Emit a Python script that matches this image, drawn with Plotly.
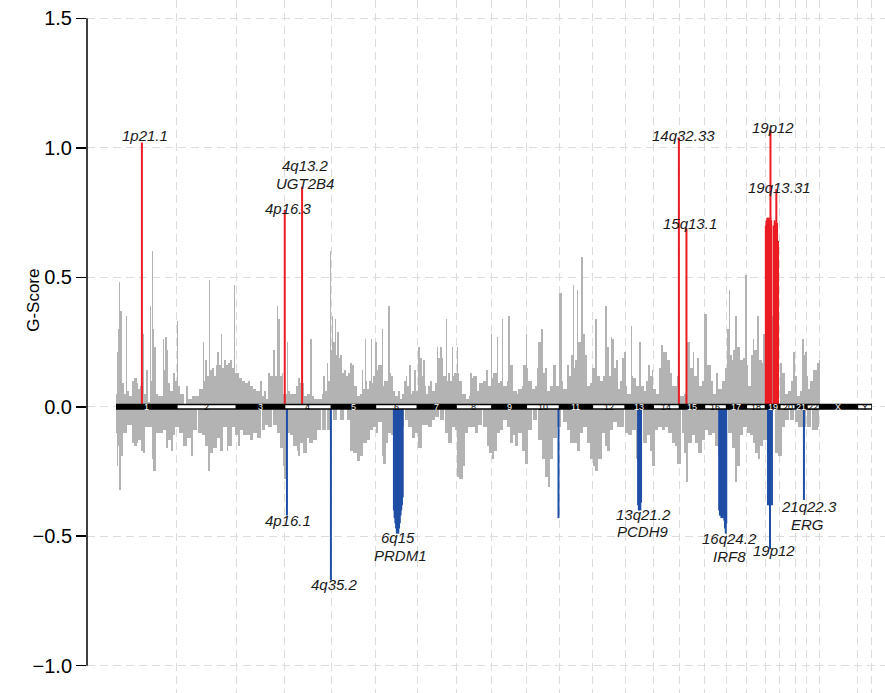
import plotly.graph_objects as go

# ---------------- data ----------------
CHROM_NAMES = [str(i) for i in range(1, 23)] + ["X", "Y"]
CHROM_LEN_MB = [249.25, 243.2, 198.0, 191.15, 180.9, 171.1, 159.1, 146.4, 141.2, 135.5,
                135.0, 133.85, 115.2, 107.35, 102.5, 90.35, 81.2, 78.1, 59.1, 63.0,
                48.1, 51.3, 155.3, 59.4]

# grey amplification G-scores: (genome position in Mb, G-score)
GREY_AMP = [
    (0, 0.05), (2, 0.21), (8, 0.30), (12, 0.48), (16, 0.37), (23, 0.09), (33, 0.05), (41, 0.35),
    (45, 0.06), (53, 0.04), (66, 0.10), (74, 0.11), (85, 0.09), (91, 0.07), (98, 0.08), (109, 0.28),
    (115, 0.05), (122, 0.14), (131, 0.02), (139, 0.39), (143, 0.10), (149, 0.60), (153, 0.30),
    (156, 0.23), (162, 0.05), (171, 0.04), (180, 0.04), (191, 0.26), (197, 0.14), (201, 0.27),
    (209, 0.22), (214, 0.09), (221, 0.06), (233, 0.13), (241, 0.10), (249, 0.33), (254, 0.08),
    (262, 0.05), (287, 0.08), (295, 0.03), (311, 0.04), (328, 0.04), (340, 0.07), (355, 0.25),
    (360, 0.10), (364, 0.18), (373, 0.12), (381, 0.49), (385, 0.14), (393, 0.15), (401, 0.12),
    (410, 0.16), (415, 0.21), (421, 0.16), (429, 0.28), (434, 0.15), (442, 0.18), (450, 0.16),
    (459, 0.17), (467, 0.18), (475, 0.15), (484, 0.47), (489, 0.13), (495, 0.13), (504, 0.11),
    (516, 0.10), (528, 0.09), (541, 0.10), (549, 0.08), (561, 0.07), (573, 0.06), (590, 0.10),
    (598, 0.04), (606, 0.06), (614, 0.03), (623, 0.13), (631, 0.12), (644, 0.22), (651, 0.12),
    (658, 0.39), (663, 0.34), (670, 0.12), (679, 0.13), (684, 0.05), (699, 0.25), (704, 0.06),
    (713, 0.05), (725, 0.05), (737, 0.08), (747, 0.11), (753, 0.09), (770, 0.04), (781, 0.05),
    (794, 0.26), (801, 0.04), (811, 0.03), (827, 0.03), (844, 0.05), (849, 0.12), (856, 0.06),
    (863, 0.17), (868, 0.10), (876, 0.60), (880, 0.22), (886, 0.35), (890, 0.25), (897, 0.34),
    (901, 0.20), (906, 0.29), (912, 0.19), (917, 0.20), (925, 0.13), (934, 0.14), (942, 0.12),
    (950, 0.13), (958, 0.17), (966, 0.16), (975, 0.08), (987, 0.04), (999, 0.05), (1006, 0.14),
    (1011, 0.07), (1020, 0.26), (1024, 0.10), (1029, 0.07), (1036, 0.10), (1043, 0.26),
    (1048, 0.09), (1054, 0.12), (1061, 0.25), (1067, 0.14), (1073, 0.16), (1078, 0.16),
    (1088, 0.30), (1093, 0.08), (1099, 0.10), (1106, 0.10), (1115, 0.39), (1120, 0.13),
    (1126, 0.12), (1134, 0.06), (1143, 0.04), (1155, 0.06), (1163, 0.03), (1171, 0.05),
    (1181, 0.10), (1186, 0.12), (1192, 0.08), (1201, 0.16), (1208, 0.05), (1213, 0.06),
    (1222, 0.14), (1229, 0.06), (1238, 0.23), (1245, 0.19), (1252, 0.12), (1258, 0.18),
    (1265, 0.08), (1269, 0.05), (1278, 0.08), (1286, 0.10), (1294, 0.06), (1306, 0.09),
    (1313, 0.23), (1319, 0.19), (1327, 0.23), (1334, 0.19), (1339, 0.12), (1350, 0.34),
    (1355, 0.10), (1361, 0.13), (1368, 0.10), (1375, 0.23), (1380, 0.12), (1384, 0.13),
    (1395, 0.23), (1400, 0.13), (1406, 0.10), (1417, 0.05), (1433, 0.03), (1446, 0.04),
    (1450, 0.13), (1457, 0.11), (1463, 0.12), (1470, 0.12), (1478, 0.06), (1486, 0.09),
    (1498, 0.09), (1503, 0.10), (1515, 0.14), (1525, 0.08), (1536, 0.28), (1541, 0.11),
    (1545, 0.13), (1559, 0.27), (1566, 0.09), (1572, 0.10), (1579, 0.34), (1585, 0.08),
    (1593, 0.08), (1601, 0.10), (1606, 0.35), (1612, 0.16), (1620, 0.16), (1627, 0.06),
    (1641, 0.05), (1647, 0.07), (1661, 0.08), (1668, 0.16), (1678, 0.28), (1683, 0.15),
    (1688, 0.10), (1702, 0.07), (1716, 0.08), (1723, 0.15), (1729, 0.25), (1740, 0.30),
    (1750, 0.13), (1757, 0.15), (1765, 0.06), (1770, 0.06), (1777, 0.08), (1791, 0.16),
    (1801, 0.08), (1814, 0.44), (1825, 0.10), (1832, 0.07), (1846, 0.16), (1855, 0.12),
    (1863, 0.20), (1870, 0.47), (1876, 0.15), (1880, 0.18), (1887, 0.45), (1892, 0.25),
    (1904, 0.58), (1914, 0.28), (1921, 0.20), (1927, 0.08), (1941, 0.09), (1948, 0.15),
    (1961, 0.34), (1971, 0.12), (1982, 0.10), (1994, 0.12), (2002, 0.39), (2012, 0.23),
    (2019, 0.12), (2026, 0.27), (2032, 0.26), (2039, 0.15), (2046, 0.18), (2057, 0.07),
    (2064, 0.10), (2071, 0.19), (2080, 0.21), (2087, 0.08), (2094, 0.05), (2108, 0.31),
    (2113, 0.12), (2118, 0.11), (2129, 0.08), (2142, 0.25), (2150, 0.08), (2162, 0.06),
    (2170, 0.10), (2180, 0.16), (2187, 0.12), (2194, 0.14), (2200, 0.07), (2211, 0.05),
    (2222, 0.15), (2232, 0.24), (2241, 0.21), (2255, 0.18), (2269, 0.13), (2277, 0.08),
    (2289, 0.08), (2299, 0.12), (2310, 0.04), (2326, 0.05), (2339, 0.25), (2350, 0.15),
    (2362, 0.21), (2368, 0.12), (2378, 0.19), (2389, 0.08), (2400, 0.10), (2408, 0.36),
    (2419, 0.16), (2430, 0.16), (2437, 0.10), (2446, 0.05), (2457, 0.13), (2467, 0.07),
    (2480, 0.10), (2494, 0.15), (2501, 0.30), (2509, 0.45), (2514, 0.20), (2521, 0.18),
    (2528, 0.22), (2535, 0.35), (2542, 0.23), (2555, 0.18), (2566, 0.19), (2577, 0.51),
    (2584, 0.16), (2589, 0.08), (2600, 0.20), (2607, 0.26), (2614, 0.22), (2624, 0.35),
    (2634, 0.18), (2644, 0.17), (2651, 0.28), (2658, 0.22), (2666, 0.30), (2682, 0.35),
    (2692, 0.41), (2699, 0.20), (2719, 0.17), (2726, 0.13), (2740, 0.05), (2752, 0.06),
    (2764, 0.10), (2774, 0.21), (2780, 0.12), (2787, 0.04), (2801, 0.06), (2810, 0.26),
    (2817, 0.20), (2821, 0.21), (2828, 0.12), (2835, 0.07), (2842, 0.10), (2855, 0.14),
    (2869, 0.17), (2879, 0.18),
]

# grey deletion G-scores: (genome position in Mb, G-score)
GREY_DEL = [
    (0, -0.10), (3, -0.23), (8, -0.15), (12, -0.32), (19, -0.19), (30, -0.10), (44, -0.07),
    (57, -0.07), (64, -0.14), (74, -0.15), (85, -0.14), (91, -0.13), (101, -0.17), (109, -0.18),
    (119, -0.08), (136, -0.08), (146, -0.20), (153, -0.25), (164, -0.10), (180, -0.10),
    (194, -0.09), (205, -0.16), (214, -0.13), (224, -0.17), (232, -0.11), (242, -0.08),
    (259, -0.10), (273, -0.15), (290, -0.12), (306, -0.19), (317, -0.09), (337, -0.10),
    (351, -0.11), (364, -0.15), (375, -0.25), (385, -0.18), (398, -0.16), (412, -0.12),
    (426, -0.17), (439, -0.08), (453, -0.17), (460, -0.15), (474, -0.08), (487, -0.11),
    (501, -0.15), (508, -0.09), (521, -0.11), (535, -0.11), (549, -0.13), (562, -0.10),
    (576, -0.12), (597, -0.09), (610, -0.07), (624, -0.08), (644, -0.07), (658, -0.10),
    (672, -0.16), (683, -0.23), (689, -0.28), (700, -0.10), (713, -0.11), (726, -0.15),
    (740, -0.17), (747, -0.19), (753, -0.14), (767, -0.18), (781, -0.12), (792, -0.14),
    (808, -0.13), (822, -0.09), (842, -0.09), (863, -0.09), (890, -0.05), (917, -0.05),
    (945, -0.05), (958, -0.17), (972, -0.18), (986, -0.21), (999, -0.19), (1013, -0.14),
    (1027, -0.13), (1040, -0.09), (1054, -0.08), (1065, -0.10), (1074, -0.06), (1088, -0.19),
    (1095, -0.22), (1106, -0.14), (1115, -0.10), (1125, -0.11), (1133, -0.12), (1147, -0.10),
    (1163, -0.08), (1183, -0.05), (1197, -0.08), (1211, -0.12), (1224, -0.10), (1238, -0.16),
    (1252, -0.07), (1265, -0.07), (1279, -0.08), (1293, -0.05), (1306, -0.04), (1327, -0.05),
    (1347, -0.10), (1361, -0.14), (1375, -0.08), (1388, -0.09), (1398, -0.27), (1406, -0.28),
    (1420, -0.23), (1429, -0.10), (1443, -0.08), (1457, -0.08), (1470, -0.10), (1484, -0.07),
    (1504, -0.08), (1518, -0.15), (1529, -0.18), (1538, -0.20), (1549, -0.17), (1559, -0.10),
    (1572, -0.09), (1586, -0.05), (1600, -0.08), (1613, -0.14), (1624, -0.11), (1634, -0.15),
    (1647, -0.10), (1661, -0.17), (1675, -0.22), (1688, -0.09), (1709, -0.05), (1729, -0.13),
    (1743, -0.20), (1757, -0.27), (1768, -0.31), (1777, -0.20), (1791, -0.12), (1805, -0.08),
    (1832, -0.06), (1846, -0.09), (1859, -0.14), (1873, -0.14), (1887, -0.17), (1900, -0.10),
    (1914, -0.08), (1930, -0.14), (1941, -0.20), (1952, -0.23), (1961, -0.25), (1975, -0.20),
    (1989, -0.10), (2002, -0.15), (2012, -0.17), (2023, -0.09), (2036, -0.06), (2050, -0.08),
    (2064, -0.08), (2084, -0.10), (2098, -0.11), (2112, -0.09), (2129, -0.20), (2159, -0.14),
    (2173, -0.11), (2187, -0.17), (2194, -0.23), (2208, -0.09), (2221, -0.08), (2235, -0.09),
    (2248, -0.08), (2262, -0.10), (2276, -0.14), (2289, -0.15), (2299, -0.22), (2317, -0.10),
    (2326, -0.18), (2334, -0.29), (2343, -0.14), (2357, -0.11), (2371, -0.14), (2385, -0.18),
    (2398, -0.13), (2412, -0.09), (2425, -0.11), (2439, -0.10), (2453, -0.15), (2467, -0.19),
    (2508, -0.10), (2522, -0.16), (2535, -0.29), (2544, -0.23), (2555, -0.11), (2569, -0.08),
    (2583, -0.10), (2596, -0.11), (2607, -0.14), (2617, -0.18), (2627, -0.20), (2638, -0.15),
    (2651, -0.13), (2665, -0.17), (2699, -0.18), (2712, -0.19), (2726, -0.08), (2740, -0.05),
    (2760, -0.05), (2780, -0.06), (2794, -0.08), (2810, -0.08), (2828, -0.08), (2848, -0.09),
    (2862, -0.09), (2876, -0.08),
]

# significant amplification peaks (red): (genome Mb, G-score)
AMP_SIG = [
    (106, 1.02), (691, 0.76), (762, 0.85), (2305, 1.04), (2336, 0.69),
    (2661, 0.70), (2664, 0.72), (2667, 0.73), (2670, 0.72), (2673, 0.73), (2676, 0.71),
    (2679, 0.73), (2680, 1.07), (2683, 0.72),
    (2693, 0.70), (2697, 0.72), (2701, 0.71), (2704, 0.84), (2707, 0.71), (2711, 0.64),
]

# significant deletion peaks (blue): (genome Mb, G-score)
DEL_SIG = [
    (700, -0.42), (880, -0.67),
    (1138, -0.40), (1141, -0.43), (1144, -0.45), (1147, -0.47), (1150, -0.49), (1153, -0.48),
    (1156, -0.49), (1159, -0.47), (1162, -0.45), (1165, -0.42), (1168, -0.40), (1171, -0.38),
    (1174, -0.35),
    (1812, -0.43),
    (2138, -0.38), (2141, -0.40), (2144, -0.40), (2147, -0.40), (2150, -0.37),
    (2470, -0.40), (2473, -0.42), (2476, -0.42), (2479, -0.43), (2482, -0.42), (2485, -0.43),
    (2488, -0.42), (2491, -0.44), (2494, -0.47), (2497, -0.49), (2499, -0.45),
    (2670, -0.38), (2673, -0.38), (2676, -0.38), (2678, -0.55), (2680, -0.38), (2683, -0.38),
    (2686, -0.38),
    (2817, -0.36),
]

# peak labels: (text, genome Mb, G-score)
PEAK_LABELS = [
    ("1p21.1", 119, 1.049), ("4p16.3", 708, 0.764), ("4q13.2", 774, 0.930),
    ("UGT2B4", 774, 0.864), ("14q32.33", 2322, 1.049), ("15q13.1", 2350, 0.709),
    ("19p12", 2690, 1.080), ("19q13.31", 2719, 0.848),
    ("4p16.1", 704, -0.441), ("4q35.2", 893, -0.685), ("6q15", 1155, -0.503),
    ("PRDM1", 1163, -0.576), ("13q21.2", 2158, -0.418), ("PCDH9", 2158, -0.480),
    ("16q24.2", 2513, -0.507), ("IRF8", 2513, -0.580), ("19p12", 2694, -0.557),
    ("21q22.3", 2838, -0.384), ("ERG", 2830, -0.454),
]

Y_TICKS = [-1.0, -0.5, 0.0, 0.5, 1.0, 1.5]

# ---------------- figure ----------------
starts, ends = [], []
acc = 0.0
for L in CHROM_LEN_MB:
    starts.append(acc)
    acc += L
    ends.append(acc)
genome_len = acc

fig = go.Figure()


def bar_widths(positions):
    # contiguous bars: each reading spans to the next one
    w = []
    for i, p in enumerate(positions):
        gap = positions[i + 1] - p if i + 1 < len(positions) else 4
        w.append(max(2.0, min(16.0, gap)))
    return w


for series in (GREY_AMP, GREY_DEL):
    px = [p for p, _ in series]
    fig.add_trace(go.Bar(
        x=px, y=[v for _, v in series], width=bar_widths(px), offset=0,
        marker=dict(color="#b3b3b3", line=dict(width=0)), hoverinfo="skip"))


def stems(pairs):
    xs, ys = [], []
    for p, v in pairs:
        xs += [p, p, None]
        ys += [0, v, None]
    return xs, ys


xs, ys = stems(AMP_SIG)
fig.add_trace(go.Scatter(x=xs, y=ys, mode="lines",
                         line=dict(color="#ec1c24", width=2), hoverinfo="skip"))
xs, ys = stems(DEL_SIG)
fig.add_trace(go.Scatter(x=xs, y=ys, mode="lines",
                         line=dict(color="#1f4ea6", width=2), hoverinfo="skip"))

# chromosome ideogram bar
shapes = [dict(type="rect", xref="x", yref="y", x0=0, x1=genome_len, y0=-0.0116, y1=0.0116,
               fillcolor="black", line=dict(width=0), layer="above")]
annotations = []
for i, (nm, s, e) in enumerate(zip(CHROM_NAMES, starts, ends)):
    even = (i % 2 == 1)
    if even:
        shapes.append(dict(type="rect", xref="x", yref="y", x0=s + 3, x1=e - 3,
                           y0=-0.0058, y1=0.0058, fillcolor="white",
                           line=dict(width=0), layer="above"))
    annotations.append(dict(x=(s + e) / 2, y=0, xref="x", yref="y", text=nm,
                            showarrow=False, font=dict(size=9, color="black" if even else "white"),
                            xanchor="center", yanchor="middle"))

# y axis line
shapes.append(dict(type="line", xref="paper", yref="y", x0=0, x1=0, y0=-1.0, y1=1.5,
                   line=dict(color="black", width=1.5), layer="above"))

for txt, x, y in PEAK_LABELS:
    annotations.append(dict(x=x, y=y, xref="x", yref="y", text="<i>%s</i>" % txt,
                            showarrow=False, xanchor="center", yanchor="middle",
                            font=dict(size=15, color="#1a1a1a")))

annotations.append(dict(x=-0.068, y=0.567, xref="paper", yref="paper", text="G-Score",
                        textangle=-90, showarrow=False, xanchor="center", yanchor="middle",
                        font=dict(size=17, color="black")))

fig.update_layout(
    width=885, height=693,
    margin=dict(l=87, r=0, t=0, b=0, autoexpand=False),
    plot_bgcolor="white", paper_bgcolor="white",
    showlegend=False, barmode="overlay", bargap=0, hovermode=False,
    font=dict(family="Liberation Sans, Arial, sans-serif", color="black"),
    shapes=shapes, annotations=annotations,
)
fig.update_xaxes(range=[-118.8, 3149], tickvals=ends, showticklabels=False, ticks="",
                 showgrid=True, gridcolor="#dcdcdc", gridwidth=1, griddash="8px,5px",
                 zeroline=False, showline=False, automargin=False)
fig.update_yaxes(range=[-1.1054, 1.5707], tickvals=Y_TICKS, tickformat=".1f",
                 ticks="outside", ticklen=10, tickwidth=1.5, tickcolor="black",
                 tickfont=dict(size=20, color="black"),
                 showgrid=True, gridcolor="#dcdcdc", gridwidth=1, griddash="8px,5px",
                 zeroline=False, showline=False, automargin=False)

fig.write_html("out.html", config={"displayModeBar": False, "staticPlot": True},
               post_script="document.body.style.margin='0';document.body.style.padding='0';")
